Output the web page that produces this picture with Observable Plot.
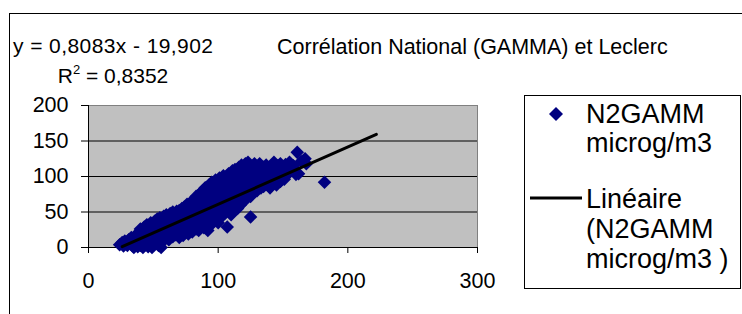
<!DOCTYPE html>
<html><head><meta charset="utf-8">
<script src="https://cdn.jsdelivr.net/npm/d3@7"></script>
<script src="https://cdn.jsdelivr.net/npm/@observablehq/plot@0.6"></script>
<style>
html,body{margin:0;padding:0;background:#fff;}
#wrap{position:relative;width:742px;height:314px;overflow:hidden;font-family:"Liberation Sans",Arial,sans-serif;}
#wrap > svg{position:absolute;left:0;top:0;}
#border{position:absolute;left:9px;top:13px;width:900px;height:400px;border-left:1px solid #000;border-top:1px solid #000;}
</style></head><body>
<div id="wrap"></div>
<script>
// Leclerc (x) vs National GAMMA N2GAMM microg/m3 (y)
const leclerc = [
  24,26,27,28,29,30,31,32,33,34,
  34,35,36,36,37,38,38,39,39,40,
  40,41,41,42,42,43,43,44,44,45,
  45,46,46,47,47,48,48,49,49,50,
  50,51,51,52,52,53,53,54,54,55,
  55,56,56,57,57,58,58,59,59,60,
  60,61,61,62,62,63,63,64,64,65,
  65,66,66,67,67,68,68,69,69,70,
  70,71,71,72,72,73,73,74,74,75,
  75,76,76,77,77,78,78,79,79,80,
  80,81,81,82,82,83,83,84,84,85,
  85,86,86,87,87,88,88,89,89,90,
  90,91,91,92,92,93,93,94,94,95,
  95,96,96,97,97,98,98,99,99,100,
  100,101,101,102,102,103,103,104,104,105,
  105,106,106,107,107,108,108,109,109,110,
  110,111,111,112,112,113,113,114,114,115,
  115,116,116,117,117,118,118,119,119,120,
  120,121,121,122,122,123,123,124,124,125,
  125,126,126,127,127,128,128,129,129,130,
  130,131,131,132,132,133,133,134,134,135,
  135,136,137,137,138,138,139,140,140,141,
  142,143,143,144,145,146,146,147,148,148,
  149,150,151,152,153,154,155,156,158,160,
  161,162,164,167,168,182
];
const gamma = [
  4,7,2,9,5,3,11,6,14,2,
  9,0,12,5,18,1,9,22,14,3,
  26,17,8,0,21,12,29,4,24,16,
  32,1,9,27,20,35,13,0,30,6,
  23,37,17,11,31,40,26,3,20,42,
  14,34,0,8,28,44,21,37,12,46,
  25,16,32,40,11,48,21,29,36,15,
  50,43,24,33,18,51,38,27,45,14,
  52,35,22,47,55,29,17,41,57,24,
  50,33,61,19,44,56,28,64,38,22,
  51,67,44,30,60,72,26,54,39,24,
  69,47,76,33,61,80,40,55,28,70,
  84,45,36,24,62,88,52,76,31,92,
  43,66,37,58,82,95,49,72,40,35,
  88,62,98,53,77,44,92,68,101,48,
  84,58,99,29,74,104,52,90,64,46,
  81,108,70,57,95,110,62,86,76,55,
  101,113,68,90,60,116,80,104,72,65,
  95,118,86,74,108,120,79,99,90,43,
  72,112,84,100,78,118,92,106,83,80,
  114,97,88,118,105,84,110,93,100,86,
  113,104,95,116,88,108,100,84,112,96,
  104,120,90,108,88,99,115,107,93,118,
  102,110,96,117,113,104,120,108,115,103,
  134,104,121,125,118,92
];
// Linear trendline ends: y = 0,8083x - 19,902
const trendX = [26, 222];
const trendY = [1.1, 159.5];

const xTicks = [0, 100, 200, 300];
const yTicks = [0, 50, 100, 150, 200];
const yGrid = [50, 100, 150];

const titleText = "Corrélation National (GAMMA) et Leclerc";
const eqText = "y = 0,8083x - 19,902";
const r2Value = " = 0,8352";
const legendSeries = ["N2GAMM", "microg/m3"];
const legendTrend = ["Linéaire", "(N2GAMM", "microg/m3 )"];

const points = leclerc.map((x, i) => ({x, y: gamma[i]}));
const trend = trendX.map((x, i) => ({x, y: trendY[i]}));

const chart = Plot.plot({
  width: 742, height: 314,
  marginLeft: 88, marginRight: 265, marginTop: 105, marginBottom: 67,
  x: {domain: [0, 300]},
  y: {domain: [0, 200]},
  style: {fontFamily: "'Liberation Sans', Arial, sans-serif", fontSize: "21.5px", color: "#000", background: "transparent", overflow: "visible"},
  marks: [
    Plot.frame({fill: "#C0C0C0", stroke: "#808080"}),
    Plot.gridY(yGrid, {stroke: "#000", strokeOpacity: 1}),
    Plot.axisY(yTicks, {label: null, tickSize: 7, tickPadding: 13}),
    Plot.axisX(xTicks, {label: null, tickSize: 6, tickPadding: 19}),
    Plot.ruleX([0], {stroke: "#000"}),
    Plot.ruleY([0], {stroke: "#000"}),
    Plot.dot(points, {x: "x", y: "y", symbol: "diamond2", r: 6.1, fill: "#000080", stroke: "none"}),
    Plot.line(trend, {x: "x", y: "y", stroke: "#000", strokeWidth: 3})
  ]
});

const wrap = document.getElementById("wrap");
wrap.appendChild(chart);
const border = document.createElement("div");
border.id = "border";
wrap.appendChild(border);

const ov = d3.create("svg").attr("width", 742).attr("height", 314)
  .style("font-family", "'Liberation Sans', Arial, sans-serif").style("fill", "#000");
ov.append("text").attr("x", 277).attr("y", 54).attr("font-size", 21.5).text(titleText);
ov.append("text").attr("x", 13).attr("y", 53).attr("font-size", 21).attr("textLength", 200).attr("lengthAdjust", "spacing").text(eqText);
const r2 = ov.append("text").attr("x", 113).attr("y", 83).attr("font-size", 21).attr("text-anchor", "middle");
r2.append("tspan").text("R");
r2.append("tspan").attr("font-size", 13).attr("dy", -9).text("2");
r2.append("tspan").attr("dy", 9).text(r2Value);

ov.append("rect").attr("x", 524.5).attr("y", 95.5).attr("width", 216).attr("height", 193).attr("fill", "none").attr("stroke", "#000");
ov.append("path").attr("d", "M556,107L563,114L556,121L549,114Z").attr("fill", "#000080");
ov.append("line").attr("x1", 530).attr("x2", 582).attr("y1", 198).attr("y2", 198).attr("stroke", "#000").attr("stroke-width", 3);
[[legendSeries[0], 123], [legendSeries[1], 152], [legendTrend[0], 208], [legendTrend[1], 238], [legendTrend[2], 268]]
  .forEach(([t, y]) => ov.append("text").attr("x", 586).attr("y", y).attr("font-size", 27).text(t));
wrap.appendChild(ov.node());
</script>
</body></html>
